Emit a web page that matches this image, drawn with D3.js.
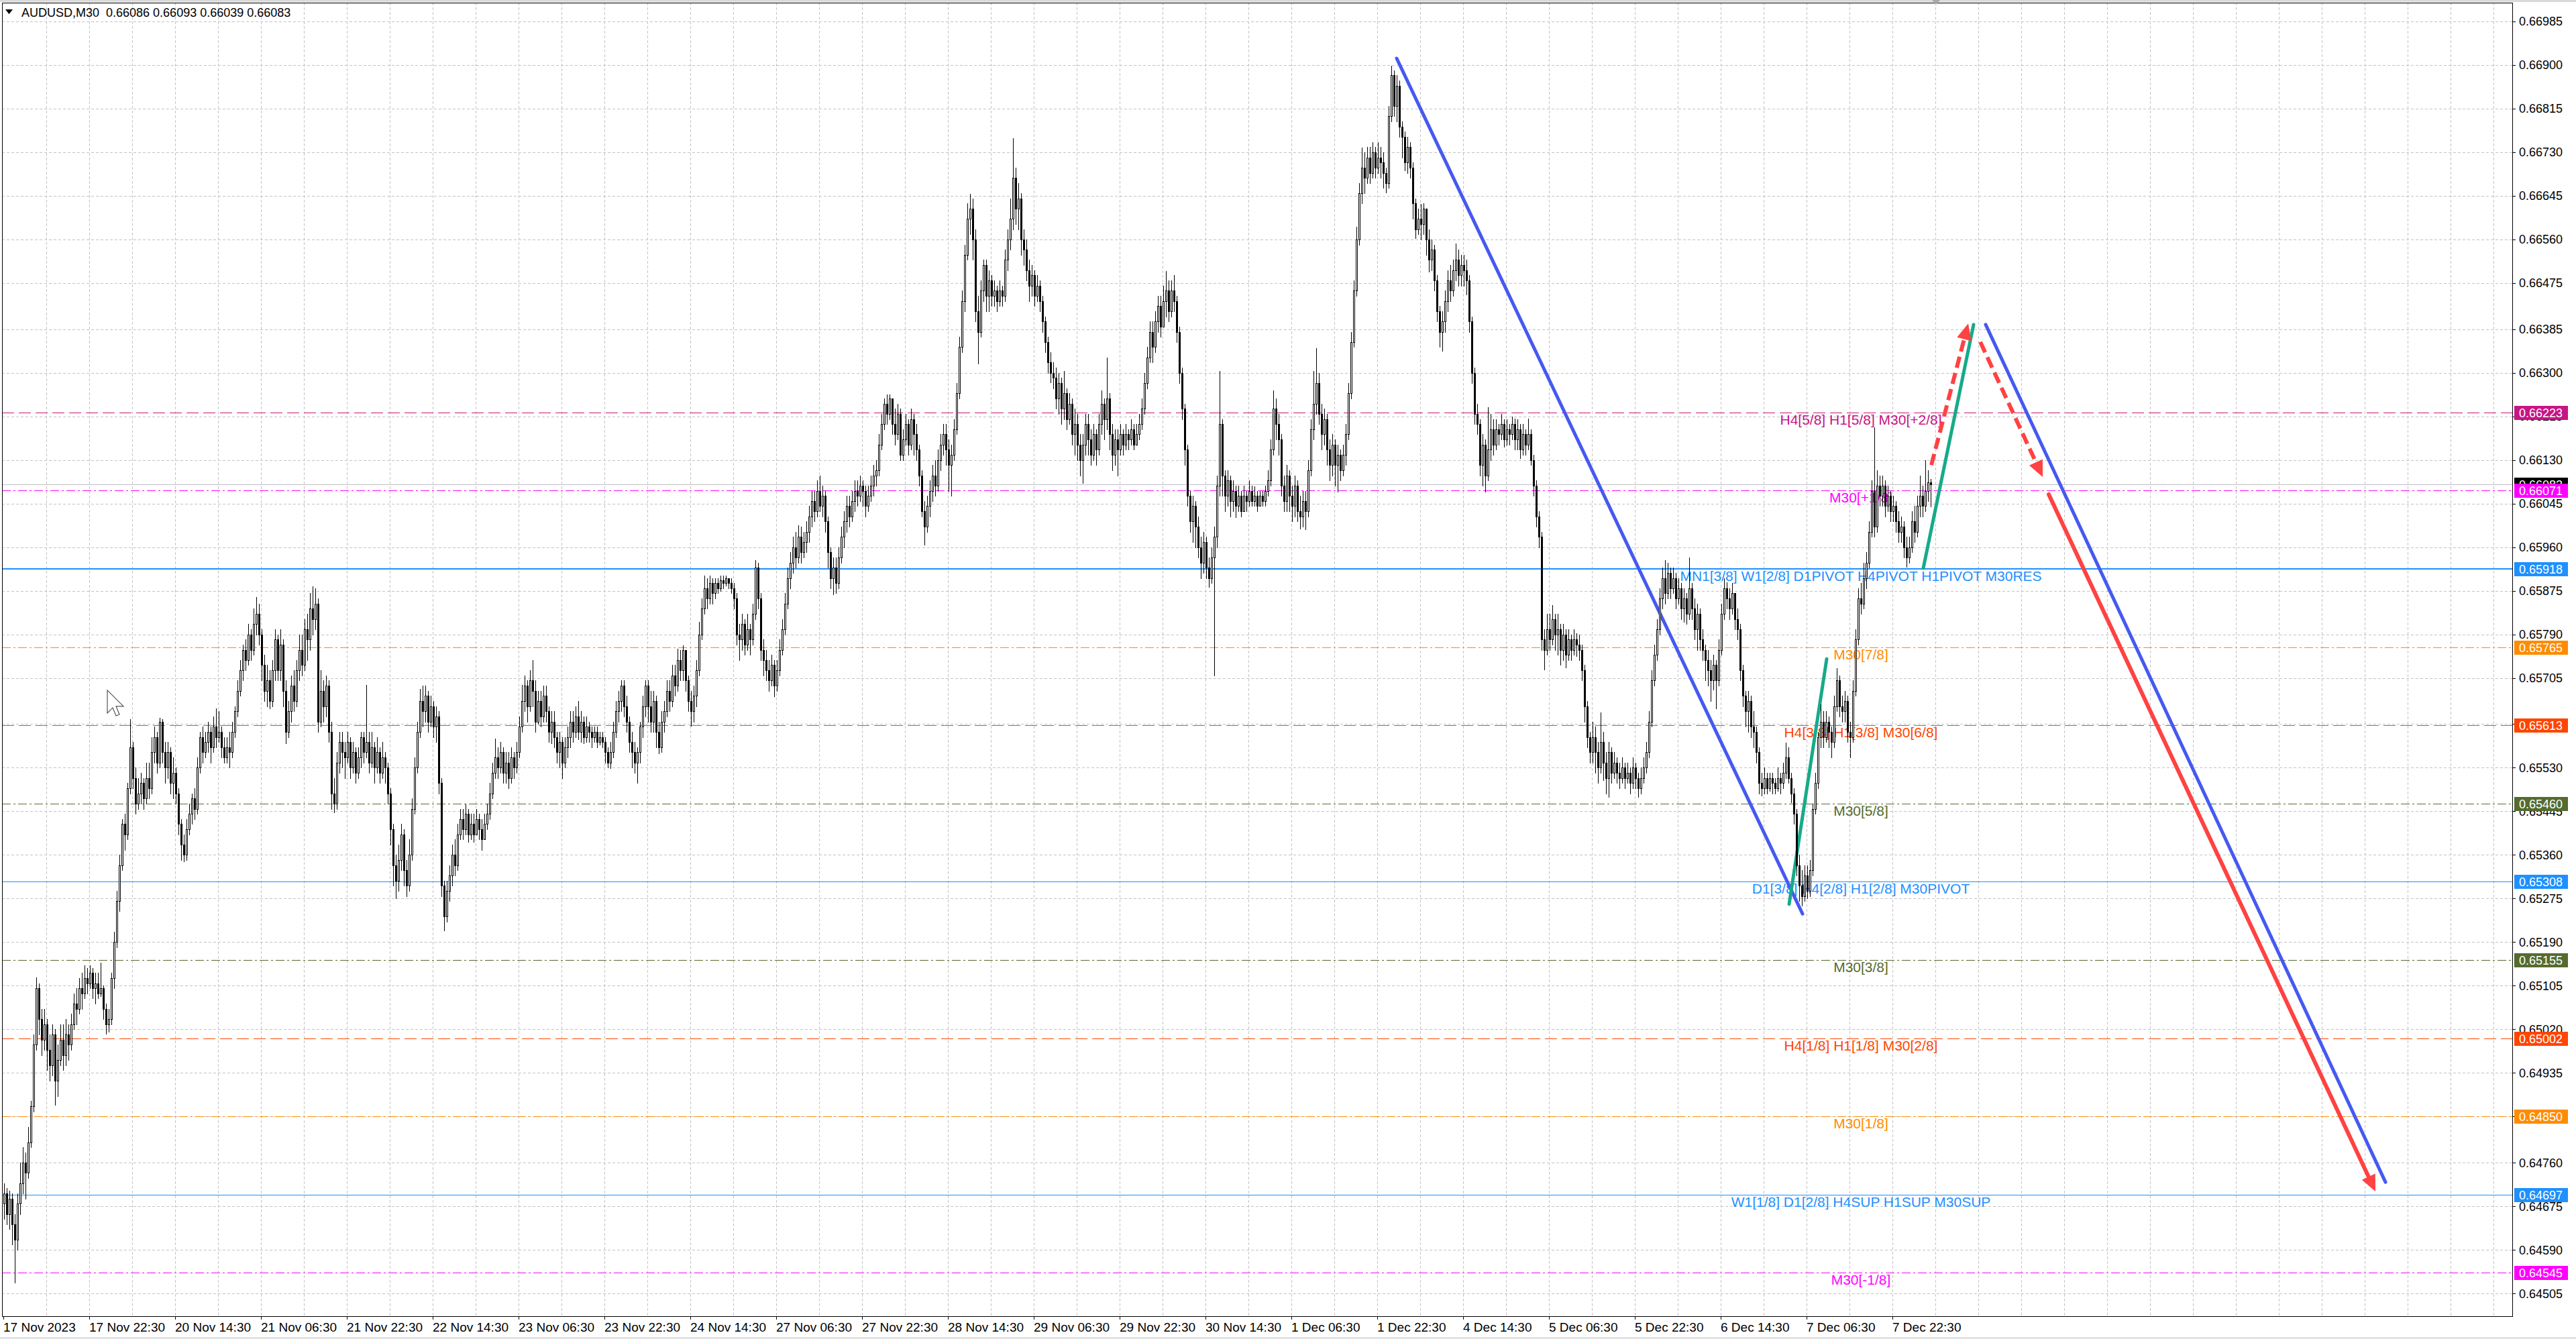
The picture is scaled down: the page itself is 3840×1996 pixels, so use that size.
<!DOCTYPE html>
<html><head><meta charset="utf-8">
<script src="https://cdn.jsdelivr.net/npm/d3@7"></script>
<style>html,body{margin:0;padding:0;background:#fff;overflow:hidden}text{font-family:"Liberation Sans",Arial,sans-serif}</style>
</head><body>
<svg id="c" width="3840" height="1996" xmlns="http://www.w3.org/2000/svg"></svg>
<script>
// ---------------- DATA ----------------
const headerText = "AUDUSD,M30  0.66086 0.66093 0.66039 0.66083";
const firstOpen = 64680;
const closes = [
64700,64660,64690,64640,64610,64680,64720,64760,64740,64800,
64870,64990,65100,65040,65000,65030,64980,64950,65010,64920,
64960,65000,64970,65010,64990,65030,65070,65060,65100,65090,
65120,65110,65130,65100,65110,65090,65100,65060,65030,65040,
65120,65190,65270,65340,65420,65400,65490,65570,65510,65460,
65480,65500,65470,65510,65490,65560,65590,65540,65620,65560,
65530,65560,65500,65520,65480,65420,65380,65360,65410,65440,
65470,65450,65530,65590,65560,65580,65600,65570,65610,65590,
65600,65570,65550,65570,65560,65600,65640,65680,65720,65760,
65740,65790,65760,65810,65830,65790,65730,65680,65700,65660,
65720,65780,65720,65770,65680,65600,65640,65690,65660,65720,
65760,65730,65800,65780,65840,65820,65850,65620,65680,65650,
65690,65600,65480,65460,65540,65580,65560,65550,65580,65530,
65560,65520,65550,65590,65560,65580,65540,65570,65530,65560,
65520,65550,65530,65480,65410,65340,65310,65350,65400,65330,
65300,65360,65450,65530,65600,65660,65640,65670,65620,65650,
65610,65630,65500,65300,65240,65290,65320,65360,65340,65400,
65430,65410,65440,65400,65420,65400,65430,65410,65390,65420,
65440,65480,65520,65550,65530,65560,65520,65540,65510,65550,
65530,65560,65610,65660,65690,65650,65700,65680,65620,65660,
65630,65670,65640,65600,65620,65590,65560,65580,65540,65570,
65590,65620,65600,65630,65600,65620,65590,65610,65600,65590,
65600,65580,65590,65580,65560,65540,65560,65600,65640,65660,
65690,65650,65620,65580,65560,65540,65560,65610,65650,65690,
65650,65620,65660,65600,65570,65620,65640,65680,65660,65710,
65690,65740,65720,65760,65700,65660,65640,65670,65720,65790,
65840,65880,65860,65890,65870,65890,65880,65895,65890,65900,
65890,65880,65860,65790,65780,65810,65770,65800,65780,65830,
65920,65860,65760,65740,65720,65700,65730,65690,65720,65760,
65800,65850,65900,65930,65960,65940,65980,65950,65970,65990,
66020,66050,66030,66070,66040,66060,66010,65950,65900,65920,
65890,65940,65980,66010,66040,66020,66050,66070,66060,66080,
66070,66040,66060,66080,66100,66110,66160,66200,66240,66220,
66250,66200,66180,66220,66140,66170,66200,66160,66210,66180,
66150,66100,66030,66000,66040,66070,66100,66080,66130,66160,
66180,66150,66120,66140,66190,66260,66350,66440,66530,66600,
66620,66560,66420,66380,66460,66510,66450,66480,66450,66460,
66440,66460,66450,66520,66560,66600,66680,66620,66640,66560,
66540,66500,66470,66490,66450,66470,66440,66400,66360,66320,
66300,66290,66250,66280,66230,66260,66210,66240,66180,66200,
66160,66130,66160,66200,66170,66140,66180,66150,66200,66240,
66210,66250,66180,66140,66170,66150,66180,66160,66180,66170,
66190,66160,66180,66200,66230,66280,66330,66380,66350,66400,
66430,66390,66440,66460,66420,66460,66440,66380,66300,66230,
66150,66060,66010,66040,66000,65960,65930,65970,65920,65900,
65940,65980,66080,66200,66100,66060,66090,66050,66070,66040,
66060,66030,66060,66050,66070,66050,66060,66040,66060,66050,
66070,66090,66150,66230,66200,66170,66080,66050,66100,66060,
66040,66080,66030,66020,66050,66030,66110,66190,66240,66280,
66220,66180,66210,66150,66120,66160,66120,66140,66110,66140,
66180,66260,66360,66460,66560,66650,66700,66680,66720,66690,
66730,66700,66720,66710,66690,66670,66800,66880,66820,66860,
66780,66760,66710,66740,66700,66630,66580,66600,66590,66620,
66560,66520,66540,66480,66420,66380,66400,66440,66480,66460,
66500,66520,66490,66510,66500,66480,66400,66300,66220,66200,
66120,66160,66100,66150,66190,66160,66190,66180,66200,66170,
66190,66180,66200,66170,66190,66150,66180,66160,66180,66130,
66080,66020,65980,65780,65760,65800,65780,65820,65790,65800,
65760,65790,65750,65780,65760,65780,65770,65760,65720,65650,
65590,65560,65590,65560,65530,65580,65540,65510,65560,65520,
65540,65520,65510,65530,65510,65520,65500,65530,65510,65490,
65510,65530,65560,65620,65700,65750,65800,65860,65900,65870,
65910,65880,65900,65860,65880,65840,65860,65830,65880,65840,
65800,65830,65780,65760,65740,65720,65700,65730,65700,65760,
65830,65880,65860,65840,65870,65820,65800,65720,65670,65640,
65660,65610,65600,65560,65500,65490,65510,65490,65510,65500,
65490,65510,65500,65520,65550,65510,65480,65440,65340,65300,
65280,65320,65290,65330,65450,65500,65590,65620,65590,65620,
65600,65580,65650,65700,65650,65640,65660,65600,65590,65680,
65780,65860,65850,65900,65930,65990,66070,66000,66080,66060,
66080,66040,66060,66030,66040,66010,65990,66000,65960,65940,
65960,66010,65990,66040,66060,66040,66070,66086,66083];
const highs = [
64720,64710,64705,64700,64660,64700,64760,64790,64780,64830,
64880,65010,65121,65110,65060,65060,65040,65010,65030,65020,
64990,65030,65030,65040,65030,65050,65090,65100,65120,65130,
65145,65140,65145,65140,65130,65130,65150,65105,65070,65060,
65130,65210,65290,65360,65430,65440,65500,65625,65580,65530,
65510,65520,65510,65540,65540,65590,65610,65600,65627,65625,
65580,65580,65570,65550,65530,65490,65430,65400,65430,65460,
65480,65490,65550,65600,65610,65600,65620,65610,65630,65645,
65640,65610,65590,65590,65600,65620,65650,65700,65740,65770,
65780,65810,65800,65840,65863,65850,65800,65750,65730,65720,
65740,65800,65790,65800,65780,65700,65660,65710,65720,65740,
65790,65790,65820,65830,65870,65884,65880,65860,65720,65700,
65710,65700,65620,65510,65560,65600,65600,65580,65600,65590,
65580,65570,65570,65600,65600,65692,65600,65600,65580,65590,
65570,65580,65560,65540,65490,65420,65360,65380,65420,65410,
65350,65390,65470,65550,65620,65683,65690,65690,65680,65670,
65660,65650,65640,65510,65310,65310,65340,65380,65390,65420,
65450,65450,65460,65450,65440,65440,65450,65440,65430,65440,
65460,65500,65540,65587,65570,65580,65570,65560,65560,65570,
65560,65580,65630,65692,65710,65700,65720,65740,65700,65680,
65680,65690,65690,65650,65640,65640,65600,65600,65590,65590,
65610,65640,65640,65650,65660,65640,65630,65630,65620,65610,
65610,65610,65600,65600,65590,65570,65580,65620,65660,65680,
65700,65700,65670,65630,65600,65580,65570,65620,65670,65700,
65700,65680,65680,65670,65620,65640,65660,65700,65700,65730,
65730,65762,65760,65769,65760,65710,65680,65690,65740,65815,
65860,65905,65900,65905,65900,65900,65900,65905,65905,65905,
65900,65900,65890,65870,65810,65830,65820,65830,65810,65850,
65935,65930,65870,65780,65760,65740,65750,65740,65740,65780,
65820,65870,65920,65950,65980,65990,66003,66000,65990,66010,
66040,66070,66070,66090,66100,66080,66070,66020,65960,65940,
65940,65960,66000,66030,66060,66060,66070,66090,66090,66100,
66090,66080,66080,66100,66120,66130,66180,66220,66250,66258,
66258,66250,66230,66240,66230,66190,66220,66210,66230,66220,
66200,66160,66110,66050,66060,66090,66120,66130,66150,66180,
66200,66200,66170,66160,66210,66280,66370,66460,66550,66630,
66649,66640,66580,66450,66480,66521,66520,66500,66490,66480,
66470,66480,66470,66540,66580,66640,66758,66700,66670,66650,
66580,66560,66520,66510,66500,66490,66480,66450,66410,66370,
66340,66320,66310,66300,66290,66303,66270,66260,66250,66230,
66220,66180,66180,66220,66220,66190,66200,66190,66220,66265,
66250,66330,66260,66200,66190,66190,66200,66190,66200,66190,
66210,66200,66200,66220,66250,66300,66350,66400,66400,66420,
66450,66450,66470,66498,66480,66480,66490,66450,66390,66310,
66240,66160,66070,66060,66050,66020,65980,65990,65980,65940,
65960,66000,66100,66303,66210,66110,66110,66100,66090,66080,
66080,66070,66080,66070,66090,66080,66078,66070,66070,66070,
66080,66110,66170,66265,66250,66220,66180,66100,66120,66110,
66080,66100,66090,66060,66070,66070,66130,66210,66303,66348,
66300,66240,66230,66220,66170,66180,66170,66160,66150,66160,
66200,66280,66380,66480,66585,66670,66739,66730,66740,66740,
66750,66740,66750,66740,66730,66700,66820,66899,66890,66880,
66870,66790,66770,66760,66750,66710,66640,66620,66629,66630,
66620,66580,66560,66550,66490,66430,66420,66460,66500,66510,
66520,66552,66540,66530,66530,66520,66490,66410,66310,66240,
66210,66180,66170,66233,66220,66210,66210,66200,66220,66210,
66210,66200,66215,66211,66210,66200,66200,66190,66211,66190,
66140,66090,66030,65990,65800,65830,65830,65847,65830,65830,
65810,65810,65800,65800,65790,65800,65792,65790,65770,65730,
65660,65600,65620,65610,65580,65638,65600,65560,65580,65570,
65560,65550,65540,65550,65540,65540,65530,65550,65540,65520,
65530,65550,65580,65640,65720,65770,65820,65880,65920,65935,
65930,65920,65920,65910,65900,65890,65880,65870,65940,65890,
65860,65850,65840,65800,65770,65760,65740,65750,65740,65780,
65850,65900,65891,65880,65890,65870,65840,65810,65730,65680,
65680,65670,65640,65610,65570,65520,65530,65520,65520,65520,
65510,65530,65520,65540,65579,65570,65520,65490,65450,65360,
65330,65340,65340,65350,65460,65520,65600,65653,65640,65640,
65630,65610,65670,65724,65710,65670,65680,65670,65620,65700,
65800,65880,65890,65930,65950,66010,66090,66194,66110,66100,
66100,66090,66080,66070,66060,66050,66030,66020,66010,65980,
65980,66030,66040,66060,66100,66080,66130,66110,66093];
const lows = [
64650,64640,64630,64600,64526,64590,64660,64700,64690,64730,
64790,64860,64980,65010,64970,64980,64940,64920,64930,64872,
64890,64950,64940,64950,64960,64980,65020,65030,65050,65060,
65080,65090,65100,65080,65070,65080,65085,65040,65011,65015,
65030,65100,65180,65250,65330,65370,65390,65480,65490,65440,
65450,65460,65450,65460,65470,65480,65540,65520,65530,65540,
65500,65510,65480,65470,65460,65400,65350,65347,65350,65400,
65420,65430,65440,65520,65540,65550,65560,65540,65560,65570,
65580,65550,65540,65540,65530,65550,65590,65630,65670,65700,
65720,65730,65740,65750,65790,65770,65700,65660,65650,65645,
65650,65700,65700,65700,65650,65577,65590,65620,65640,65650,
65700,65710,65720,65740,65760,65790,65800,65600,65610,65620,
65630,65580,65450,65443,65450,65520,65530,65510,65540,65510,
65520,65500,65510,65530,65540,65550,65520,65530,65500,65520,
65500,65510,65500,65460,65380,65300,65275,65290,65330,65300,
65280,65290,65350,65440,65520,65590,65610,65620,65600,65610,
65590,65580,65480,65280,65213,65230,65270,65300,65320,65330,
65390,65390,65400,65385,65390,65385,65400,65390,65370,65390,
65410,65430,65470,65510,65510,65520,65500,65500,65490,65500,
65510,65520,65550,65600,65640,65620,65640,65650,65600,65616,
65610,65620,65620,65580,65577,65570,65540,65530,65510,65530,
65550,65570,65580,65590,65585,65580,65577,65580,65580,65570,
65580,65570,65575,65570,65540,65530,65529,65550,65590,65620,
65640,65630,65600,65560,65530,65520,65500,65540,65590,65630,
65620,65600,65600,65570,65558,65560,65600,65630,65640,65650,
65670,65680,65700,65700,65680,65640,65611,65620,65650,65710,
65780,65830,65840,65850,65850,65860,65870,65875,65880,65885,
65880,65870,65840,65770,65740,65760,65750,65760,65750,65770,
65820,65840,65740,65710,65700,65680,65690,65669,65680,65710,
65750,65790,65840,65880,65910,65920,65930,65930,65940,65950,
65970,66000,66010,66020,66030,66020,65990,65920,65880,65868,
65870,65880,65930,65960,65990,66000,66010,66030,66040,66050,
66040,66020,66030,66050,66060,66080,66100,66150,66190,66200,
66210,66180,66160,66170,66130,66130,66160,66140,66150,66140,
66130,66080,66020,65965,65990,66020,66050,66060,66070,66110,
66140,66120,66070,66060,66130,66180,66250,66340,66420,66520,
66570,66520,66400,66318,66370,66440,66420,66420,66430,66430,
66420,66430,66430,66440,66500,66540,66580,66590,66580,66530,
66510,66480,66440,66450,66431,66440,66420,66380,66340,66300,
66281,66270,66230,66220,66200,66210,66190,66200,66160,66140,
66130,66100,66085,66140,66140,66120,66130,66120,66140,66180,
66170,66190,66150,66110,66120,66100,66140,66140,66150,66150,
66160,66150,66160,66170,66190,66220,66270,66320,66320,66340,
66380,66370,66390,66410,66400,66410,66420,66360,66280,66210,
66120,66040,65990,65970,65960,65940,65900,65910,65900,65883,
65890,65710,65960,66060,66060,66030,66040,66020,66030,66018,
66030,66020,66030,66030,66040,66040,66040,66030,66040,66040,
66040,66060,66080,66140,66170,66140,66060,66030,66030,66030,
66010,66020,66010,65996,66000,65995,66020,66100,66170,66220,
66200,66150,66160,66120,66090,66100,66080,66068,66090,66100,
66120,66170,66250,66350,66450,66550,66630,66650,66670,66670,
66680,66680,66690,66680,66660,66651,66660,66790,66800,66790,
66760,66720,66695,66690,66680,66600,66563,66570,66560,66570,
66530,66497,66500,66460,66400,66350,66343,66380,66420,66440,
66450,66480,66470,66470,66470,66453,66380,66280,66200,66180,
66100,66080,66068,66090,66130,66140,66150,66160,66170,66156,
66160,66160,66170,66150,66150,66134,66140,66140,66150,66120,
66060,66000,65960,65760,65721,65750,65760,65770,65760,65750,
65730,65740,65726,65740,65740,65750,65748,65740,65700,65620,
65570,65540,65540,65520,65500,65520,65506,65480,65473,65500,
65510,65500,65490,65500,65490,65500,65480,65490,65490,65473,
65480,65500,65520,65550,65610,65690,65740,65790,65840,65850,
65860,65860,65870,65840,65850,65820,65814,65810,65820,65820,
65780,65760,65759,65740,65700,65690,65660,65682,65645,65690,
65750,65820,65840,65820,65830,65800,65780,65700,65649,65610,
65600,65590,65570,65540,65480,65475,65480,65480,65485,65480,
65480,65485,65480,65490,65510,65500,65462,65420,65320,65270,
65261,65270,65275,65280,65320,65440,65490,65570,65570,65580,
65570,65550,65570,65640,65630,65620,65620,65580,65550,65580,
65670,65770,65830,65840,65880,65920,65980,65980,65990,66040,
66040,66020,66030,66010,66010,65990,65970,65970,65940,65921,
65930,65950,65970,65980,66020,66020,66030,66050,66039];

const timeLabels = ["17 Nov 2023","17 Nov 22:30","20 Nov 14:30","21 Nov 06:30","21 Nov 22:30",
 "22 Nov 14:30","23 Nov 06:30","23 Nov 22:30","24 Nov 14:30","27 Nov 06:30","27 Nov 22:30",
 "28 Nov 14:30","29 Nov 06:30","29 Nov 22:30","30 Nov 14:30","1 Dec 06:30","1 Dec 22:30",
 "4 Dec 14:30","5 Dec 06:30","5 Dec 22:30","6 Dec 14:30","7 Dec 06:30","7 Dec 22:30"];
const priceTicks = [0.66985,0.66900,0.66815,0.66730,0.66645,0.66560,0.66475,0.66385,0.66300,0.66215,
 0.66130,0.66045,0.65960,0.65875,0.65790,0.65705,0.65615,0.65530,0.65445,0.65360,0.65275,0.65190,
 0.65105,0.65020,0.64935,0.64850,0.64760,0.64675,0.64590,0.64505];

const levelPrices = [0.66223,0.66071,0.65918,0.65765,0.65613,0.65460,0.65308,0.65155,0.65002,0.64850,0.64697,0.64545];
const levelNames = ["H4[5/8] H1[5/8] M30[+2/8]","M30[+1/8]","MN1[3/8] W1[2/8] D1PIVOT H4PIVOT H1PIVOT M30RES",
 "M30[7/8]","H4[3/8] H1[3/8] M30[6/8]","M30[5/8]","D1[3/8] H4[2/8] H1[2/8] M30PIVOT","M30[3/8]",
 "H4[1/8] H1[1/8] M30[2/8]","M30[1/8]","W1[1/8] D1[2/8] H4SUP H1SUP M30SUP","M30[-1/8]"];
const levelColors = ["#C71585","#FF00FF","#1E90FF","#FF8C00","#FF4500","#556B2F","#1E90FF","#556B2F",
 "#FF4500","#FF8C00","#1E90FF","#FF00FF"];
const levelStyles = ["dash","dashdot","solid2","dashdot","dash","dashdot","solid","dashdot","dash","dashdot","solid","dashdot"];
const currentPrice = 0.66083;
const labelBar = 692;

// hand drawn objects: [bar index, price] pairs
const blueLines = [[[519,0.66913],[670.25,0.65245]],[[738.5,0.66394],[887.5,0.64722]]];
const greenLines = [[[665.25,0.65264],[679.25,0.65742]],[[715.25,0.65919],[734,0.66394]]];
const redDashedArrows = [[[718.25,0.66120],[732,0.66396]],[[736.5,0.66360],[759.75,0.66097]]];
const redArrows = [[[762,0.66063],[883.75,0.64704]]];
// mouse cursor seen on the screenshot: [bar index, price]
const cursorAt = [38.5, 0.65681];

// ---------------- DRAW ----------------
const W = 3840, H = 1996;
const L = 3, T = 4, R = 3746, B = 1962;
const svg = d3.select("#c");
const x = d3.scaleLinear().domain([0, 935]).range([6, 3746]);
const y = d3.scaleLinear().domain([0.644606, 0.670216]).range([B, T]);
const FONT = '"Liberation Sans", Arial, sans-serif';

svg.append("rect").attr("width", W).attr("height", H).attr("fill", "#fff");
svg.append("rect").attr("x",0).attr("y",0).attr("width",W).attr("height",3).attr("fill","#d9d9d9");
svg.append("rect").attr("x",0).attr("y",H-3).attr("width",W).attr("height",3).attr("fill","#e3e3e3");

svg.append("defs").append("clipPath").attr("id","plot")
  .append("rect").attr("x",L).attr("y",T).attr("width",R-L).attr("height",B-T);

const plot = svg.append("g").attr("clip-path","url(#plot)");
const crisp = v => Math.round(v) + 0.5;

// grid
const grid = plot.append("g").attr("stroke","#c3c3c3").attr("stroke-width",1)
  .attr("stroke-dasharray","4,3").attr("shape-rendering","crispEdges");
grid.selectAll("line.h").data(priceTicks).join("line").attr("class","h")
  .attr("x1",L).attr("x2",R).attr("y1",d=>crisp(y(d))).attr("y2",d=>crisp(y(d)));
const vBars = d3.range(16, 935, 16);
grid.selectAll("line.v").data(vBars).join("line").attr("class","v")
  .attr("x1",d=>crisp(x(d)-1)).attr("x2",d=>crisp(x(d)-1)).attr("y1",T).attr("y2",B);

// level lines
const dashFor = s => s==="dash" ? "18,7" : s==="dashdot" ? "13,4,3,4" : null;
const levels = levelPrices.map((p,i)=>({p, name:levelNames[i], color:levelColors[i], style:levelStyles[i]}));
plot.append("g").attr("shape-rendering","crispEdges").selectAll("line").data(levels).join("line")
  .attr("x1",L).attr("x2",R)
  .attr("y1",d=> d.style==="solid2" ? Math.round(y(d.p)) : crisp(y(d.p)))
  .attr("y2",d=> d.style==="solid2" ? Math.round(y(d.p)) : crisp(y(d.p)))
  .attr("stroke",d=>d.color).attr("stroke-width",d=>d.style==="solid2"?2:1)
  .attr("stroke-dasharray",d=>dashFor(d.style));
plot.append("line").attr("x1",L).attr("x2",R).attr("y1",crisp(y(currentPrice))).attr("y2",crisp(y(currentPrice)))
  .attr("stroke","#c0c0c0").attr("stroke-width",1).attr("shape-rendering","crispEdges");

// level labels
plot.append("g").selectAll("text").data(levels).join("text")
  .attr("x", x(labelBar)).attr("y", d=>y(d.p)+18).attr("text-anchor","middle")
  .attr("font-size",21).attr("fill",d=>d.color).style("font-family",FONT).text(d=>d.name);

// trend objects
const lineGen = d3.line().x(d=>x(d[0])).y(d=>y(d[1]));
const objs = plot.append("g").attr("fill","none").attr("stroke-linecap","round");
objs.selectAll("path.blue").data(blueLines).join("path").attr("class","blue")
  .attr("d",lineGen).attr("stroke","#4659F0").attr("stroke-width",5);
objs.selectAll("path.green").data(greenLines).join("path").attr("class","green")
  .attr("d",lineGen).attr("stroke","#16AA8A").attr("stroke-width",5);

function arrowParts(seg, headLen, headW) {
  const x0 = x(seg[0][0]), y0 = y(seg[0][1]), x1 = x(seg[1][0]), y1 = y(seg[1][1]);
  const dx = x1-x0, dy = y1-y0, len = Math.hypot(dx,dy), ux = dx/len, uy = dy/len;
  const bx = x1-ux*headLen, by = y1-uy*headLen;
  const px = -uy, py = ux;
  return {shaft:[[x0,y0],[bx+ux*2,by+uy*2]],
    head:[[x1,y1],[bx+px*headW/2,by+py*headW/2],[bx-px*headW/2,by-py*headW/2]]};
}
const RED = "#FF4242";
redDashedArrows.forEach(seg=>{
  const a = arrowParts(seg, 24, 22);
  objs.append("path").attr("d", d3.line()(a.shaft)).attr("stroke",RED).attr("stroke-width",6)
    .attr("stroke-linecap","butt").attr("stroke-dasharray","17,8");
  objs.append("path").attr("d", d3.line()(a.head)+"Z").attr("fill",RED).attr("stroke","none");
});
redArrows.forEach(seg=>{
  const a = arrowParts(seg, 24, 22);
  objs.append("path").attr("d", d3.line()(a.shaft)).attr("stroke",RED).attr("stroke-width",6);
  objs.append("path").attr("d", d3.line()(a.head)+"Z").attr("fill",RED).attr("stroke","none");
});

// candles
const bars = closes.map((c,i)=>({i, o: i===0?firstOpen:closes[i-1], c, h: highs[i], l: lows[i]}));
const cg = plot.append("g").attr("shape-rendering","crispEdges");
bars.forEach(b=>{
  const cx = Math.round(x(b.i));
  const o = b.o/1e5, c = b.c/1e5, h = b.h/1e5, l = b.l/1e5;
  const yh = Math.round(y(h)), yl = Math.round(y(l));
  cg.append("line").attr("x1",cx+0.5).attr("x2",cx+0.5).attr("y1",yh).attr("y2",yl+1)
    .attr("stroke","#000").attr("stroke-width",1);
  const top = Math.round(y(Math.max(o,c))), bot = Math.round(y(Math.min(o,c)));
  if (b.c > b.o) {
    cg.append("rect").attr("x",cx-0.5).attr("y",top+0.5).attr("width",2).attr("height",Math.max(bot-top,1))
      .attr("fill","#fff").attr("stroke","#000").attr("stroke-width",1);
  } else if (b.c < b.o) {
    cg.append("rect").attr("x",cx-1).attr("y",top).attr("width",3).attr("height",Math.max(bot-top,1)+1)
      .attr("fill","#000");
  } else {
    cg.append("line").attr("x1",cx-1).attr("x2",cx+2).attr("y1",top+0.5).attr("y2",top+0.5)
      .attr("stroke","#000").attr("stroke-width",1);
  }
});

// mouse cursor
{
  const cx0 = x(cursorAt[0]), cy0 = y(cursorAt[1]);
  const pts = [[0,0],[0,34],[8,26],[13,38],[18,36],[13,24],[24,24]].map(p=>[cx0+p[0], cy0+p[1]]);
  svg.append("path").attr("d", d3.line()(pts)+"Z").attr("fill","#fff").attr("stroke","#555").attr("stroke-width",1.2);
}

// border
svg.append("rect").attr("x",L+0.5).attr("y",T+0.5).attr("width",R-L-1).attr("height",B-T)
  .attr("fill","none").attr("stroke","#000").attr("stroke-width",1).attr("shape-rendering","crispEdges");

// shift marker
const sx = x(closes.length+1);
svg.append("path").attr("d",`M${sx-6},0L${sx+6},0L${sx},7Z`).attr("fill","#a8a8a8");

// right axis
const ax = svg.append("g");
ax.selectAll("line").data(priceTicks).join("line").attr("x1",R).attr("x2",R+4)
  .attr("y1",d=>crisp(y(d))).attr("y2",d=>crisp(y(d))).attr("stroke","#000").attr("shape-rendering","crispEdges");
ax.selectAll("text").data(priceTicks).join("text").attr("x",R+9).attr("y",d=>y(d)+6.5)
  .attr("font-size",18).attr("fill","#000").style("font-family",FONT).text(d=>d.toFixed(5));

const boxes = [{p:currentPrice,color:"#000"}].concat(levels.map(d=>({p:d.p,color:d.color})));
const bg = svg.append("g");
boxes.forEach(b=>{
  const yy = Math.round(y(b.p));
  bg.append("rect").attr("x",R+2).attr("y",yy-10).attr("width",80).attr("height",21).attr("fill",b.color);
  bg.append("text").attr("x",R+9).attr("y",yy+7).attr("font-size",18).attr("fill","#fff")
    .style("font-family",FONT).text(b.p.toFixed(5));
});

// time axis
const tg = svg.append("g");
const labelBars = timeLabels.map((t,k)=>({t, bar:k*32}));
tg.selectAll("line").data(labelBars).join("line").attr("x1",d=>crisp(x(d.bar)-1)).attr("x2",d=>crisp(x(d.bar)-1))
  .attr("y1",B).attr("y2",B+5).attr("stroke","#000").attr("shape-rendering","crispEdges");
tg.selectAll("text").data(labelBars).join("text").attr("x",d=>x(d.bar)-1).attr("y",1985)
  .attr("font-size",19).attr("fill","#000").style("font-family",FONT).text(d=>d.t);

// header
svg.append("path").attr("d","M8,14L19,14L13.5,21Z").attr("fill","#000");
svg.append("text").attr("x",32).attr("y",25).attr("font-size",18).attr("fill","#000")
  .style("font-family",FONT).style("white-space","pre").attr("xml:space","preserve").text(headerText);
</script>
</body></html>
